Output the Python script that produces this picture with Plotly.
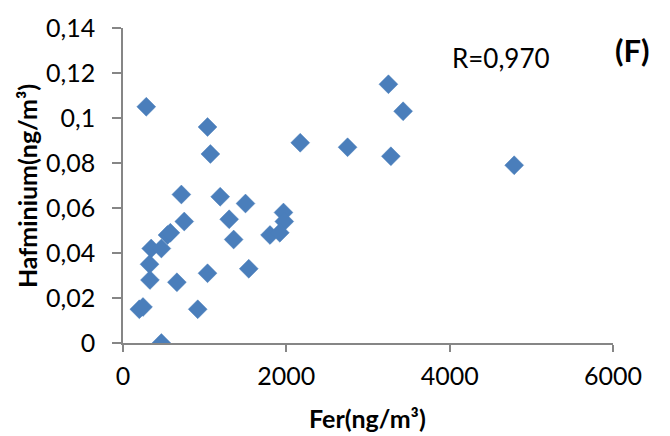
import plotly.graph_objects as go

# Fer vs Hafnium concentrations (ng/m³)
fer = [285, 1035, 1070, 2170, 3250, 3430, 2750, 3280, 4790,
       715, 1190, 1500, 1965, 1975, 750, 1300, 545, 580, 1355,
       1800, 1920, 345, 470, 325, 330, 660, 1035, 1540, 200, 245,
       915, 470]
hafnium = [0.105, 0.096, 0.084, 0.089, 0.115, 0.103, 0.087, 0.083, 0.079,
           0.066, 0.065, 0.062, 0.058, 0.054, 0.054, 0.055, 0.048, 0.049, 0.046,
           0.048, 0.049, 0.042, 0.042, 0.035, 0.028, 0.027, 0.031, 0.033, 0.015, 0.016,
           0.015, 0.0]

x_ticks = [0, 2000, 4000, 6000]
x_labels = ["0", "2000", "4000", "6000"]
y_ticks = [0, 0.02, 0.04, 0.06, 0.08, 0.10, 0.12, 0.14]
y_labels = ["0", "0,02", "0,04", "0,06", "0,08", "0,1", "0,12", "0,14"]

FONT = "Lato"
AXIS_GRAY = "#868686"

fig = go.Figure(go.Scatter(
    x=fer, y=hafnium, mode="markers",
    marker=dict(symbol="diamond", size=14.5, color="#4A7EBB",
                line=dict(color="#4A7EBB", width=0.5)),
    hoverinfo="x+y",
))

fig.update_layout(
    width=670, height=436,
    margin=dict(l=123, r=57, t=23, b=93),
    paper_bgcolor="white", plot_bgcolor="white",
    showlegend=False,
    font=dict(family=FONT, color="#000000"),
    xaxis=dict(
        range=[0, 6000], tickvals=x_ticks, ticktext=x_labels,
        showgrid=False, zeroline=False,
        showline=True, linecolor=AXIS_GRAY, linewidth=1.5,
        ticks="outside", ticklen=7, tickcolor=AXIS_GRAY, tickwidth=1.5,
        tickfont=dict(size=25, family=FONT), ticklabelstandoff=3,
    ),
    yaxis=dict(
        range=[0, 0.14], tickvals=y_ticks, ticktext=y_labels,
        showgrid=False, zeroline=False,
        showline=True, linecolor=AXIS_GRAY, linewidth=1.5,
        ticks="outside", ticklen=9, tickcolor=AXIS_GRAY, tickwidth=1.5,
        tickfont=dict(size=25, family=FONT), ticklabelstandoff=12,
    ),
    annotations=[
        dict(text="<b>Fer(ng/m³)</b>", xref="paper", yref="paper",
             x=0.499, y=-0.238, xanchor="center", yanchor="middle",
             showarrow=False, font=dict(size=25, family=FONT)),
        dict(text="<b>Hafminium(ng/m³)</b>", xref="paper", yref="paper",
             x=-0.196, y=0.498, xanchor="center", yanchor="middle", textangle=-90,
             showarrow=False, font=dict(size=25, family=FONT)),
        dict(text="R=0,970", xref="paper", yref="paper",
             x=0.771, y=0.906, xanchor="center", yanchor="middle",
             showarrow=False, font=dict(size=26, family=FONT)),
        dict(text="<b>(F)</b>", xref="paper", yref="paper",
             x=1.039, y=0.931, xanchor="center", yanchor="middle",
             showarrow=False, font=dict(size=31, family=FONT)),
    ],
)

fig.write_html("out.html")
